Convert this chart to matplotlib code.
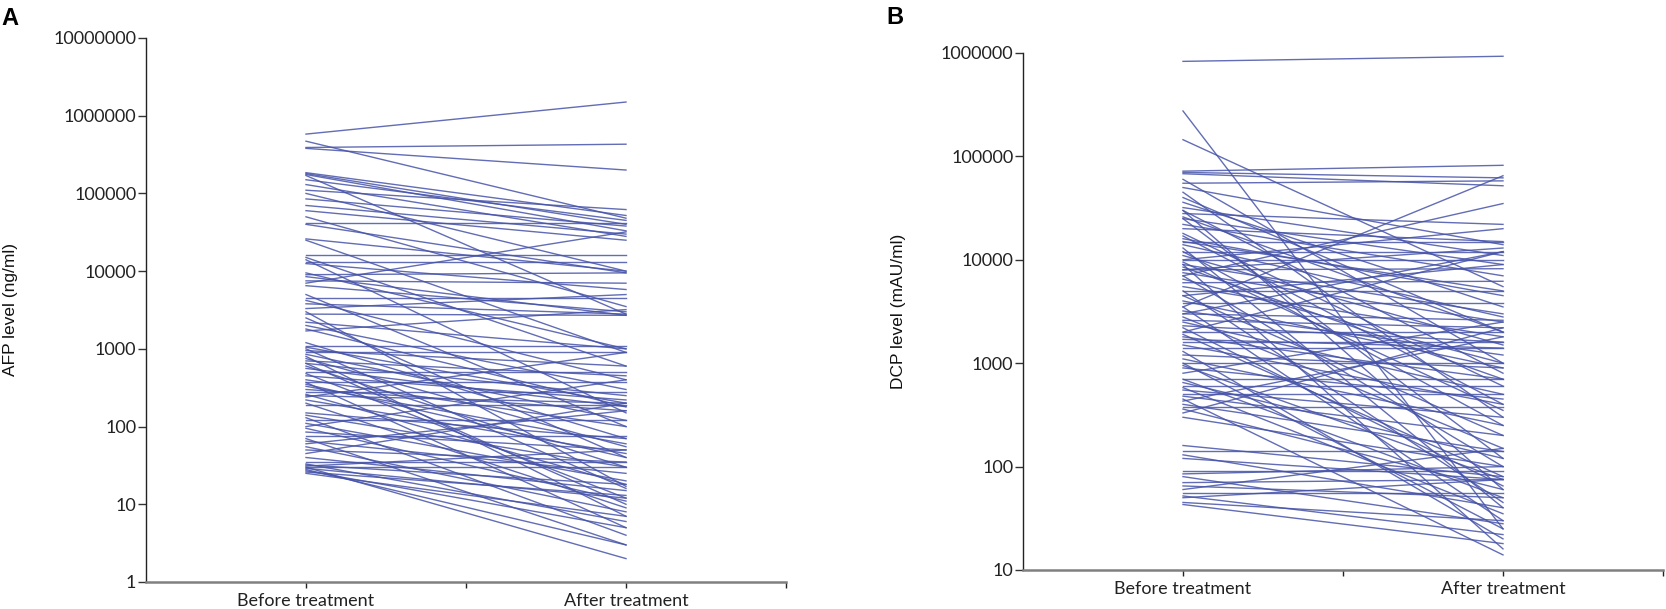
import numpy as np
import matplotlib
matplotlib.use("Agg")
import matplotlib.pyplot as plt
from matplotlib.ticker import FixedLocator, FuncFormatter, NullLocator

# values (before, after) for each patient
groups = ["Before treatment", "After treatment"]

afp_before = [580000, 470000, 390000, 380000, 185000, 180000, 175000, 170000, 150000, 130000,
              110000, 100000, 85000, 70000, 60000, 50000, 42000, 40000, 25000, 16000,
              14000, 13000, 12500, 9000, 7000, 8500, 7500, 6500, 4500, 4200,
              3800, 3300, 2800, 2500, 2200, 2000, 1800, 1700, 1100, 1050,
              1000, 950, 900, 850, 800, 750, 700, 650, 600, 560,
              500, 480, 450, 400, 380, 370, 330, 300, 280, 260,
              250, 240, 220, 200, 190, 150, 140, 130, 120, 110,
              100, 95, 85, 75, 70, 65, 60, 55, 50, 45,
              40, 35, 33, 32, 31, 30, 30, 29, 28, 27,
              26, 25, 3000, 5000, 9500, 15000, 26000, 1200, 650, 350]
afp_after = [1500000, 48000, 430000, 200000, 52000, 40000, 33000, 2800, 45000, 28000,
             62000, 10000, 38000, 30000, 25000, 3500, 42000, 9500, 900, 16000,
             150, 13000, 5800, 9500, 32000, 2700, 7000, 3000, 4500, 400,
             2800, 5000, 2700, 40, 1000, 300, 180, 3200, 1100, 200,
             16, 600, 900, 120, 7, 55, 450, 250, 30, 180,
             500, 12, 220, 100, 380, 5, 60, 160, 280, 18,
             200, 900, 45, 9, 190, 70, 30, 4, 120, 20,
             400, 11, 50, 75, 3, 25, 160, 8, 35, 200,
             15, 35, 6, 18, 50, 30, 2, 12, 3, 5,
             13, 7, 17, 100, 1000, 600, 10000, 70, 10, 40]

dcp_before = [830000, 275000, 145000, 72000, 70000, 68000, 60000, 55000, 50000, 45000,
              36000, 32000, 30000, 28000, 26000, 25000, 22000, 20000, 18000, 16000,
              15000, 14000, 13000, 12000, 11000, 10000, 9500, 9000, 8500, 8000,
              7500, 7000, 6000, 5500, 5000, 4500, 3500, 4000, 3800, 3500,
              3200, 3000, 2800, 2600, 2500, 2300, 2000, 1900, 1800, 1700,
              1500, 1400, 1300, 1200, 1100, 1000, 950, 900, 800, 700,
              650, 600, 580, 550, 500, 480, 450, 430, 400, 380,
              360, 330, 300, 160, 140, 130, 120, 90, 85, 80,
              70, 65, 60, 55, 52, 50, 45, 43, 7000, 10000,
              3000, 25000, 12000, 30000, 9000, 5000, 2000, 1000, 6500, 15000,
              40000, 17000, 2200, 700, 1600, 8000, 4500]
dcp_after = [930000, 25, 5500, 82000, 62000, 52000, 1000, 58000, 14000, 300,
             3500, 11000, 800, 22000, 2000, 120, 7000, 15000, 600, 4500,
             15000, 2800, 40, 12000, 1500, 10000, 350, 3000, 700, 8200,
             2500, 100, 6200, 1800, 5000, 200, 65000, 900, 3800, 30,
             1200, 2600, 150, 2200, 500, 1600, 2000, 80, 700, 1400,
             400, 1400, 20, 900, 250, 1000, 75, 450, 2500, 700,
             120, 600, 35, 300, 500, 200, 14, 1800, 140, 380,
             60, 2200, 100, 80, 140, 40, 75, 90, 100, 28,
             75, 50, 150, 55, 22, 75, 30, 18, 35000, 20000,
             12000, 9000, 250, 60, 16, 45, 12000, 25, 1000, 5000,
             2000, 400, 65, 50, 1600, 13000, 9000]

afp_ticks = [1, 10, 100, 1000, 10000, 100000, 1000000, 10000000]
dcp_ticks = [10, 100, 1000, 10000, 100000, 1000000]

line_color = "#4653a8"
tick_font = "Lato"
label_font = "Liberation Sans"

W, H = 1666, 609
fig = plt.figure(figsize=(W / 100, H / 100), dpi=100)
axA = fig.add_axes([146 / W, 27 / H, 640 / W, 544 / H])
axB = fig.add_axes([1023 / W, 39 / H, 640 / W, 517 / H])


def style(ax, ticks):
    ax.set_yscale("log")
    ax.set_ylim(ticks[0], ticks[-1])
    ax.set_xlim(0.5, 2.5)
    ax.yaxis.set_major_locator(FixedLocator(ticks))
    ax.yaxis.set_minor_locator(NullLocator())
    ax.yaxis.set_major_formatter(FuncFormatter(lambda v, p: "%d" % round(v)))
    ax.set_xticks([1, 2])
    ax.set_xticklabels(groups)
    ax.set_xticks([1.5, 2.5], minor=True)
    for s in ["top", "right"]:
        ax.spines[s].set_visible(False)
    ax.spines["left"].set_color("#222222")
    ax.spines["left"].set_linewidth(1.0)
    ax.spines["bottom"].set_color("#808080")
    ax.spines["bottom"].set_linewidth(1.8)
    ax.tick_params(axis="y", length=6, width=1.0, color="#333333", pad=1)
    ax.tick_params(axis="x", which="both", length=4, width=1.0, color="#222222", pad=4)
    for lab in ax.get_yticklabels() + ax.get_xticklabels():
        lab.set_fontfamily(tick_font)
        lab.set_fontsize(13)
        lab.set_color("#222222")


for ax, before, after, ticks in [(axA, afp_before, afp_after, afp_ticks),
                                 (axB, dcp_before, dcp_after, dcp_ticks)]:
    ax.plot([1, 2], np.vstack([before, after]), color=line_color, lw=1.0, alpha=0.85)
    style(ax, ticks)

fig.text(11 / W, 1 - 310 / H, "AFP level (ng/ml)", rotation=90, ha="center", va="center",
         fontsize=12.5, family=label_font, color="#111111")
fig.text(899 / W, 1 - 311 / H, "DCP level (mAU/ml)", rotation=90, ha="center", va="center",
         fontsize=12.5, family=label_font, color="#111111")

fig.text(1 / W, 1 - 25 / H, "A", fontsize=17, fontweight="bold", family=label_font, va="baseline")
fig.text(886 / W, 1 - 24 / H, "B", fontsize=17, fontweight="bold", family=label_font, va="baseline")

fig.savefig("out.png", dpi=100)
